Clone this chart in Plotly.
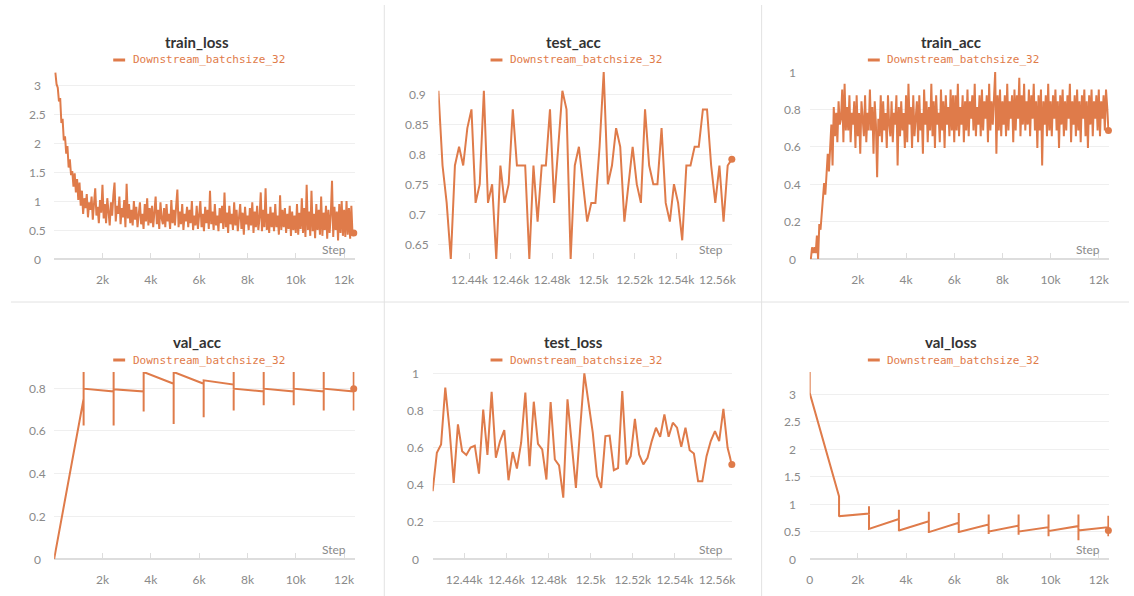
import plotly.graph_objects as go

W, H = 1134, 596
ORANGE = "#df7b4a"
GRID = "#efefef"
AXISC = "#dddddd"
SEP = "#e2e2e2"
TICKF = dict(family="Lato, 'Noto Sans', sans-serif", size=12, color="#8a8a8a")
RUN = "Downstream_batchsize_32"

# ---------------- data ----------------
train_loss = [
    3.22, 3.02, 2.96, 2.72, 2.78, 2.35, 2.42, 2.05, 2.12, 1.82,
    1.95, 1.58, 1.72, 1.45, 1.52, 1.25, 1.48, 1.15, 1.38, 1.02,
    1.32, 0.92, 1.18, 0.78, 1.05, 0.88, 1.12, 0.72, 0.98, 0.85,
    1.08, 0.68, 0.95, 1.22, 0.75, 0.90, 0.62, 1.02, 0.80, 1.28,
    0.70, 0.95, 0.62, 1.05, 0.82, 0.58, 0.98, 0.75, 1.10, 1.32,
    0.65, 0.92, 0.78, 1.08, 0.60, 0.88, 0.72, 1.02, 0.55, 1.30,
    0.70, 0.95, 0.62, 0.85, 0.58, 1.00, 0.68, 0.90, 0.55, 0.82,
    0.98, 0.60, 0.78, 0.52, 0.95, 0.65, 1.05, 0.58, 0.88, 0.62,
    0.92, 0.55, 0.80, 1.08, 0.60, 0.85, 0.52, 0.98, 0.70, 0.60,
    0.88, 0.55, 0.95, 0.65, 0.78, 0.52, 1.02, 0.62, 0.85, 0.58,
    0.92, 1.20, 0.55, 0.82, 0.60, 0.95, 0.50, 0.78, 0.65, 0.90,
    0.55, 0.85, 0.62, 1.00, 0.50, 0.75, 0.58, 0.92, 0.52, 0.80,
    1.00, 0.55, 0.78, 0.48, 0.90, 0.62, 0.85, 0.52, 1.18, 0.60,
    0.82, 0.50, 0.95, 0.58, 0.75, 0.48, 0.88, 0.62, 0.92, 0.52,
    1.15, 0.55, 0.80, 0.45, 0.92, 0.60, 0.78, 0.50, 0.98, 0.58,
    0.85, 0.48, 0.72, 0.95, 0.52, 0.80, 0.42, 0.90, 0.60, 0.75,
    0.50, 0.88, 0.58, 0.98, 0.45, 0.82, 0.55, 0.92, 0.50, 0.72,
    1.15, 0.48, 0.85, 0.55, 1.22, 0.50, 0.78, 0.45, 0.90, 0.55,
    0.80, 0.48, 0.95, 0.55, 0.75, 0.42, 1.10, 0.50, 0.85, 0.55,
    0.88, 0.45, 0.78, 0.52, 0.92, 0.40, 0.82, 0.50, 0.75, 0.45,
    0.95, 0.42, 0.80, 0.52, 1.05, 0.45, 0.88, 0.38, 1.28, 0.50,
    0.82, 0.40, 1.18, 0.48, 0.78, 0.36, 0.95, 0.50, 0.85, 0.42,
    1.08, 0.40, 0.80, 0.50, 0.92, 0.35, 0.85, 0.45, 0.78, 1.35,
    0.38, 0.90, 0.50, 0.82, 0.32, 0.95, 0.45, 1.00, 0.40, 0.85,
    0.38, 1.00, 0.42, 0.88, 0.35, 0.92, 0.40, 0.45,
]

train_acc = [
    0.0, 0.0625, 0.03125, 0.0625, 0.03125, 0.125, 0.0, 0.1875, 0.15625, 0.25,
    0.3125, 0.40625, 0.34375, 0.5, 0.5625, 0.46875, 0.625, 0.71875, 0.5, 0.8125,
    0.65625, 0.78125, 0.625, 0.84375, 0.71875, 0.75, 0.90625, 0.625, 0.9375, 0.6875,
    0.8125, 0.6875, 0.875, 0.625, 0.78125, 0.71875, 0.84375, 0.59375, 0.875, 0.65625,
    0.78125, 0.5625, 0.84375, 0.71875, 0.65625, 0.875, 0.625, 0.78125, 0.6875, 0.90625,
    0.6875, 0.8125, 0.5625, 0.84375, 0.71875, 0.4375, 0.75, 0.65625, 0.875, 0.625,
    0.84375, 0.6875, 0.78125, 0.59375, 0.875, 0.71875, 0.65625, 0.84375, 0.625, 0.78125,
    0.71875, 0.875, 0.5, 0.8125, 0.65625, 0.84375, 0.6875, 0.78125, 0.59375, 0.875,
    0.625, 0.9375, 0.71875, 0.8125, 0.59375, 0.875, 0.65625, 0.75, 0.84375, 0.625,
    0.875, 0.6875, 0.78125, 0.5625, 0.90625, 0.71875, 0.84375, 0.625, 0.8125, 0.6875,
    0.9375, 0.65625, 0.84375, 0.59375, 0.875, 0.71875, 0.78125, 0.625, 0.90625, 0.6875,
    0.84375, 0.59375, 0.875, 0.71875, 0.8125, 0.65625, 0.90625, 0.6875, 0.875, 0.625,
    0.875, 0.6875, 0.9375, 0.65625, 0.8125, 0.71875, 0.875, 0.625, 0.84375, 0.6875,
    0.90625, 0.65625, 0.84375, 0.75, 0.875, 0.6875, 0.9375, 0.65625, 0.8125, 0.71875,
    0.875, 0.65625, 0.90625, 0.6875, 0.84375, 0.75, 0.875, 0.625, 0.9375, 0.6875,
    0.84375, 0.71875, 0.875, 1.0, 0.5625, 0.875, 0.6875, 0.90625, 0.65625, 0.84375,
    0.71875, 0.875, 0.65625, 0.9375, 0.6875, 0.84375, 0.75, 0.875, 0.625, 0.90625,
    0.6875, 0.875, 0.75, 0.96875, 0.65625, 0.875, 0.71875, 0.9375, 0.6875, 0.84375,
    0.71875, 0.90625, 0.65625, 0.875, 0.75, 0.9375, 0.6875, 0.84375, 0.59375, 0.875,
    0.6875, 0.90625, 0.5, 0.84375, 0.71875, 0.875, 0.65625, 0.9375, 0.6875, 0.84375,
    0.65625, 0.875, 0.75, 0.90625, 0.6875, 0.84375, 0.59375, 0.875, 0.71875, 0.90625,
    0.65625, 0.84375, 0.6875, 0.875, 0.75, 0.9375, 0.625, 0.84375, 0.71875, 0.875,
    0.65625, 0.90625, 0.6875, 0.84375, 0.625, 0.875, 0.75, 0.90625, 0.65625, 0.84375,
    0.59375, 0.875, 0.71875, 0.90625, 0.65625, 0.84375, 0.75, 0.875, 0.6875, 0.90625,
    0.65625, 0.84375, 0.75, 0.875, 0.6875, 0.90625, 0.8125, 0.6875,
]

LOG_EVERY = 50
train_loss_steps = [LOG_EVERY * (i + 1) for i in range(len(train_loss))]
train_acc_steps = [LOG_EVERY * (i + 1) for i in range(len(train_acc))]

test_acc = [
    0.90625, 0.78125, 0.71875, 0.625, 0.78125, 0.8125, 0.78125, 0.84375, 0.875, 0.71875,
    0.75, 0.90625, 0.71875, 0.75, 0.625, 0.78125, 0.71875, 0.75, 0.875, 0.78125,
    0.78125, 0.78125, 0.625, 0.78125, 0.6875, 0.78125, 0.78125, 0.875, 0.71875, 0.8125,
    0.90625, 0.875, 0.625, 0.78125, 0.8125, 0.75, 0.6875, 0.71875, 0.71875, 0.8125,
    0.9375, 0.75, 0.78125, 0.84375, 0.8125, 0.6875, 0.75, 0.8125, 0.75, 0.71875,
    0.875, 0.78125, 0.75, 0.75, 0.84375, 0.71875, 0.6875, 0.75, 0.71875, 0.65625,
    0.78125, 0.78125, 0.8125, 0.8125, 0.875, 0.875, 0.78125, 0.71875, 0.78125, 0.6875,
    0.78125, 0.7917,
]
test_loss = [
    0.365, 0.572, 0.617, 0.923, 0.70, 0.41, 0.725, 0.58, 0.56, 0.60,
    0.61, 0.46, 0.805, 0.56, 0.90, 0.545, 0.635, 0.694, 0.424, 0.576,
    0.487, 0.626, 0.896, 0.50, 0.847, 0.62, 0.59, 0.428, 0.845, 0.536,
    0.504, 0.33, 0.86, 0.60, 0.383, 0.70, 1.0, 0.84, 0.68, 0.446,
    0.383, 0.662, 0.665, 0.478, 0.49, 0.905, 0.509, 0.554, 0.755, 0.563,
    0.509, 0.545, 0.635, 0.707, 0.658, 0.779, 0.658, 0.734, 0.707, 0.604,
    0.707, 0.586, 0.568, 0.419, 0.419, 0.554, 0.635, 0.689, 0.635, 0.809,
    0.599, 0.509,
]
TEST_FIRST_STEP = 12425
TEST_EVERY = 2
test_steps = [TEST_FIRST_STEP + TEST_EVERY * i for i in range(len(test_acc))]

# validation: at each epoch-end step several batch values are logged at the same step
val_epoch_steps = [1220, 2462, 3704, 4946, 6188, 7430, 8672, 9914, 11156, 12398]
val_acc_step0 = [0.0]
val_acc_arrive = [0.75, 0.784, 0.784, 0.82, 0.82, 0.816, 0.784, 0.784, 0.784, 0.784]
val_acc_low = [0.625, 0.625, 0.69, 0.632, 0.663, 0.695, 0.72, 0.72, 0.695, 0.695]
val_acc_high = [0.875, 0.875, 0.875, 0.875, 0.836, 0.875, 0.875, 0.875, 0.875, 0.875]
val_acc_leave = [0.797, 0.794, 0.875, 0.875, 0.836, 0.797, 0.797, 0.797, 0.797, 0.797]

val_loss_step0 = [3.41, 3.03]
val_loss_arrive = [1.14, 0.83, 0.73, 0.69, 0.66, 0.63, 0.61, 0.58, 0.60, 0.58]
val_loss_high = [1.14, 0.96, 0.90, 0.86, 0.84, 0.81, 0.81, 0.81, 0.81, 0.79]
val_loss_low = [0.77, 0.55, 0.505, 0.475, 0.475, 0.456, 0.444, 0.414, 0.34, 0.414]
val_loss_leave = [0.78, 0.55, 0.52, 0.49, 0.49, 0.50, 0.50, 0.51, 0.52, 0.52]


def build_val(step0_vals, seqs):
    xs = [0] * len(step0_vals)
    ys = list(step0_vals)
    for i, s in enumerate(val_epoch_steps):
        for seq in seqs:
            xs.append(s)
            ys.append(seq[i])
    return xs, ys


val_acc_x, val_acc_y = build_val(val_acc_step0, [val_acc_arrive, val_acc_low, val_acc_high, val_acc_leave])
val_loss_x, val_loss_y = build_val(val_loss_step0, [val_loss_arrive, val_loss_high, val_loss_low, val_loss_leave])

k_ticks = [2000, 4000, 6000, 8000, 10000, 12000]
k_text = ["2k", "4k", "6k", "8k", "10k", "12k"]
t_ticks = [12440, 12460, 12480, 12500, 12520, 12540, 12560]
t_text = ["12.44k", "12.46k", "12.48k", "12.5k", "12.52k", "12.54k", "12.56k"]

panels = [
    dict(title="train_loss", x=train_loss_steps, y=train_loss, px=(51.5, 354), lx=35, row=0, cx=195,
         xr=[0, 12430], xt=k_ticks, xtt=k_text, yr=[0, 3.23],
         yt=[0, 0.5, 1, 1.5, 2, 2.5, 3], ytt=["0", "0.5", "1", "1.5", "2", "2.5", "3"]),
    dict(title="test_acc", x=test_steps, y=test_acc, px=(438.5, 734), lx=417, row=0, cx=575,
         xr=[12425, 12567], xt=t_ticks, xtt=t_text, yr=[0.625, 0.9375],
         yt=[0.65, 0.7, 0.75, 0.8, 0.85, 0.9], ytt=["0.65", "0.7", "0.75", "0.8", "0.85", "0.9"]),
    dict(title="train_acc", x=train_acc_steps, y=train_acc, px=(812.4, 1114), lx=795, row=0, cx=955,
         xr=[0, 12430], xt=k_ticks, xtt=k_text, yr=[0, 1.0],
         yt=[0, 0.2, 0.4, 0.6, 0.8, 1], ytt=["0", "0.2", "0.4", "0.6", "0.8", "1"]),
    dict(title="val_acc", x=val_acc_x, y=val_acc_y, px=(51.5, 354), lx=35, row=1, cx=195,
         xr=[0, 12430], xt=k_ticks, xtt=k_text, yr=[0, 0.875],
         yt=[0, 0.2, 0.4, 0.6, 0.8], ytt=["0", "0.2", "0.4", "0.6", "0.8"]),
    dict(title="test_loss", x=test_steps, y=test_loss, px=(432.7, 734), lx=415, row=1, cx=575,
         xr=[12425, 12567], xt=t_ticks, xtt=t_text, yr=[0, 1.007],
         yt=[0, 0.2, 0.4, 0.6, 0.8, 1], ytt=["0", "0.2", "0.4", "0.6", "0.8", "1"]),
    dict(title="val_loss", x=val_loss_x, y=val_loss_y, px=(812.4, 1114), lx=795, row=1, cx=955,
         xr=[0, 12430], xt=[0] + k_ticks, xtt=["0"] + k_text, yr=[0, 3.41],
         yt=[0, 0.5, 1, 1.5, 2, 2.5, 3], ytt=["0", "0.5", "1", "1.5", "2", "2.5", "3"]),
]

fig = go.Figure()
shapes = []
annotations = []
layout_axes = {}

for i, p in enumerate(panels):
    n = "" if i == 0 else str(i + 1)
    top = 72 + 300 * p["row"]
    bot = 259 + 300 * p["row"]
    xd = [p["px"][0] / W, p["px"][1] / W]
    yd = [1 - bot / H, 1 - top / H]
    layout_axes["xaxis" + n] = dict(
        domain=xd, range=p["xr"], anchor="y" + n, tickvals=p["xt"], ticktext=p["xtt"],
        ticks="inside", ticklen=6, tickcolor=AXISC, tickwidth=1, showgrid=False,
        zeroline=False, showline=False, tickfont=TICKF, ticklabelstandoff=12, fixedrange=True)
    layout_axes["yaxis" + n] = dict(
        domain=yd, range=p["yr"], anchor="x" + n, tickvals=p["yt"], ticktext=p["ytt"],
        showgrid=True, gridcolor=GRID, gridwidth=1, zeroline=True, zerolinecolor=AXISC,
        zerolinewidth=2, showline=False, ticks="", showticklabels=False, fixedrange=True)
    # centred y tick labels, placed on the axis' own scale
    for v, t in zip(p["yt"], p["ytt"]):
        annotations.append(dict(text=t, x=p["lx"] / W, xref="paper", y=v, yref="y" + n,
                                xanchor="center", yanchor="middle", showarrow=False, font=TICKF))
    fig.add_trace(go.Scatter(x=p["x"], y=p["y"], mode="lines", xaxis="x" + n, yaxis="y" + n,
                             line=dict(color=ORANGE, width=2), showlegend=False, hoverinfo="skip"))
    fig.add_trace(go.Scatter(x=[p["x"][-1]], y=[p["y"][-1]], mode="markers", xaxis="x" + n,
                             yaxis="y" + n, marker=dict(color=ORANGE, size=7), cliponaxis=False,
                             showlegend=False, hoverinfo="skip"))
    # title
    ty = 42 + 300 * p["row"]
    annotations.append(dict(text="<b>%s</b>" % p["title"], x=p["cx"] / W, y=1 - ty / H,
                            xref="paper", yref="paper", xanchor="center", yanchor="middle",
                            showarrow=False,
                            font=dict(family="Lato, 'Noto Sans', sans-serif", size=15, color="#333333")))
    # legend
    ly = 60 + 300 * p["row"]
    shapes.append(dict(type="line", xref="paper", yref="paper",
                       x0=(p["cx"] - 84) / W, x1=(p["cx"] - 72) / W, y0=1 - ly / H, y1=1 - ly / H,
                       line=dict(color=ORANGE, width=3)))
    annotations.append(dict(text=RUN, x=(p["cx"] - 66.5) / W, y=1 - ly / H, xref="paper", yref="paper",
                            xanchor="left", yanchor="middle", showarrow=False,
                            font=dict(family="'DejaVu Sans Mono', monospace", size=11, color=ORANGE)))
    # "Step" label
    annotations.append(dict(text="Step", x=(p["px"][1] - 7) / W, y=1 - (bot - 10) / H,
                            xref="paper", yref="paper", xanchor="right", yanchor="middle",
                            showarrow=False, font=TICKF))

# panel separators
shapes.append(dict(type="line", xref="paper", yref="paper", x0=384 / W, x1=384 / W, y0=0, y1=1 - 5 / H,
                   line=dict(color=SEP, width=1)))
shapes.append(dict(type="line", xref="paper", yref="paper", x0=764 / W, x1=764 / W, y0=0, y1=1 - 5 / H,
                   line=dict(color=SEP, width=1)))
shapes.append(dict(type="line", xref="paper", yref="paper", x0=8 / W, x1=1, y0=1 - 302 / H, y1=1 - 302 / H,
                   line=dict(color=SEP, width=1)))

fig.update_layout(
    width=W, height=H, margin=dict(l=0, r=0, t=0, b=0),
    paper_bgcolor="white", plot_bgcolor="white", showlegend=False,
    shapes=shapes, annotations=annotations, **layout_axes)

fig.write_html("out.html")
